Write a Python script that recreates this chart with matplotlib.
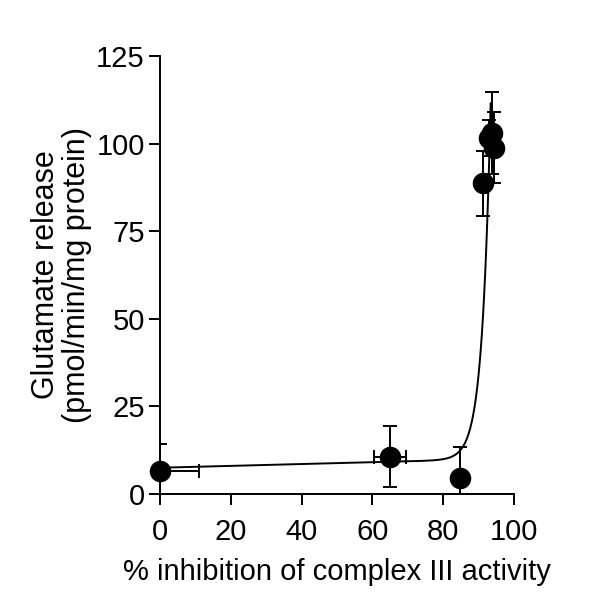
import numpy as np
import matplotlib
matplotlib.use("Agg")
import matplotlib.pyplot as plt

plt.rcParams["font.family"] = ["Liberation Sans", "DejaVu Sans"]

# ── data ────────────────────────────────────────────────────────────
inhibition = [0.0, 65.0, 84.6, 91.3, 92.9, 93.9, 94.4]
inhibition_err = [11.0, 4.6, 0.0, 0.0, 0.0, 0.0, 0.0]
release = [6.5, 10.7, 4.5, 88.6, 101.6, 103.0, 98.8]
release_err = [7.7, 8.6, 8.8, 9.2, 5.1, 11.8, 10.2]

# fitted curve: baseline + exponential rise
fit_a, fit_m, fit_b, fit_k, fit_x0 = 7.5, 0.026, 56.4, 0.42, 92.0
fit_x_end = 93.4

xticks = [0, 20, 40, 60, 80, 100]
yticks = [0, 25, 50, 75, 100, 125]

fig = plt.figure(figsize=(6.0, 6.01), dpi=100)
ax = fig.add_axes([0.2667, 0.178, 0.59, 0.729])

xs = np.linspace(0, fit_x_end, 600)
ys = fit_a + fit_m * xs + fit_b * np.exp(fit_k * (xs - fit_x0))
ax.plot(xs, ys, color="black", lw=1.4, zorder=2)

ax.errorbar(inhibition, release, yerr=release_err, xerr=inhibition_err,
            fmt="none", ecolor="black", elinewidth=1.4, capsize=5, capthick=1.4,
            zorder=3)
ax.plot(inhibition, release, "o", color="black", ms=14.5, clip_on=False, zorder=4)

ax.set_xlim(0, 100)
ax.set_ylim(0, 125)
ax.set_xticks(xticks)
ax.set_yticks(yticks)
ax.tick_params(direction="out", length=8, width=1.4)
ax.tick_params(axis="x", labelsize=21, pad=9)
ax.tick_params(axis="y", labelsize=21, pad=3)
for side in ("top", "right"):
    ax.spines[side].set_visible(False)
for side in ("left", "bottom"):
    ax.spines[side].set_linewidth(1.4)

ax.set_xlabel("% inhibition of complex III activity", fontsize=21, labelpad=9)
ax.set_ylabel("Glutamate release\n(pmol/min/mg protein)", fontsize=22,
              labelpad=3, linespacing=1.02)

fig.savefig("out.png", dpi=100)
